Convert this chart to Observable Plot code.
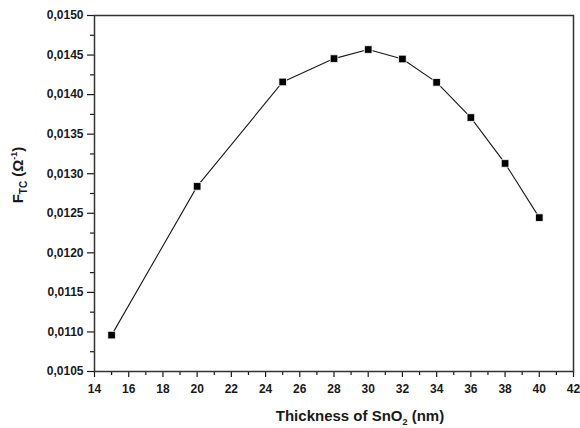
<!DOCTYPE html>
<html>
<head>
<meta charset="utf-8">
<script src="https://cdn.jsdelivr.net/npm/d3@7"></script>
<script src="https://cdn.jsdelivr.net/npm/@observablehq/plot@0.6"></script>
<style>
  html, body { margin: 0; padding: 0; background: #fff; }
</style>
</head>
<body>
<div id="chart"></div>
<script>
const thickness = [15, 20, 25, 28, 30, 32, 34, 36, 38, 40];
const ftc = [0.01096, 0.01284, 0.01416, 0.014455, 0.01457, 0.01445, 0.014155, 0.01371, 0.01313, 0.012445];
const xTicks = [14, 16, 18, 20, 22, 24, 26, 28, 30, 32, 34, 36, 38, 40, 42];
const xMinor = [15, 17, 19, 21, 23, 25, 27, 29, 31, 33, 35, 37, 39, 41];
const yTicks = [0.0105, 0.0110, 0.0115, 0.0120, 0.0125, 0.0130, 0.0135, 0.0140, 0.0145, 0.0150];
const yMinor = [0.01075, 0.01125, 0.01175, 0.01225, 0.01275, 0.01325, 0.01375, 0.01425, 0.01475];
const xLabel = ["Thickness of SnO", "2", " (nm)"];
const yLabel = ["F", "TC", " (Ω", "-1", ")"];

const data = thickness.map((t, i) => ({x: t, y: ftc[i]}));
const ink = "#1a1a1a";
const blank = () => "";

const svg = Plot.plot({
  width: 580,
  height: 428,
  marginLeft: 94,
  marginRight: 7,
  marginTop: 15,
  marginBottom: 57,
  style: {fontFamily: "Liberation Sans, Arial, sans-serif", fontSize: "12px", fontWeight: "bold", color: ink, background: "#fff"},
  x: {domain: [14, 42]},
  y: {domain: [0.0105, 0.0150]},
  marks: [
    Plot.axisY(yMinor, {tickSize: 4, tickFormat: blank, label: null, stroke: ink, strokeWidth: 1.2}),
    Plot.axisY(yTicks, {tickSize: 7, tickPadding: 4, tickFormat: d => d.toFixed(4).replace(".", ","), label: null, stroke: ink, strokeWidth: 1.2, fontWeight: "bold", fill: ink}),
    Plot.axisX(xMinor, {tickSize: 4, tickFormat: blank, label: null, stroke: ink, strokeWidth: 1.2}),
    Plot.axisX(xTicks, {tickSize: 6, tickPadding: 7, label: null, stroke: ink, strokeWidth: 1.2, fontWeight: "bold", fill: ink}),
    Plot.frame({stroke: "#333", strokeWidth: 1.5}),
    Plot.line(data, {x: "x", y: "y", stroke: ink, strokeWidth: 1.1}),
    Plot.dot(data, {x: "x", y: "y", symbol: "square", r: 4.3, fill: "#000", stroke: "#fff", strokeWidth: 0.8})
  ]
});

const s = d3.select(svg);
const xl = s.append("text")
  .attr("x", 360).attr("y", 421)
  .attr("text-anchor", "middle")
  .style("font-family", "Liberation Sans, Arial, sans-serif")
  .style("font-weight", "bold").style("font-size", "15px").attr("fill", ink);
xl.append("tspan").text(xLabel[0]);
xl.append("tspan").attr("dy", 4).style("font-size", "9px").text(xLabel[1]);
xl.append("tspan").attr("dy", -4).text(xLabel[2]);

const yl = s.append("text")
  .attr("transform", "translate(23,175) rotate(-90)")
  .attr("text-anchor", "middle")
  .style("font-family", "Liberation Sans, Arial, sans-serif")
  .style("font-weight", "bold").style("font-size", "15px").attr("fill", ink);
yl.append("tspan").text(yLabel[0]);
yl.append("tspan").attr("dy", 4).style("font-size", "10px").text(yLabel[1]);
yl.append("tspan").attr("dy", -4).text(yLabel[2]);
yl.append("tspan").attr("dy", -6).style("font-size", "9px").text(yLabel[3]);
yl.append("tspan").attr("dy", 6).text(yLabel[4]);

document.getElementById("chart").appendChild(svg);
</script>
</body>
</html>
